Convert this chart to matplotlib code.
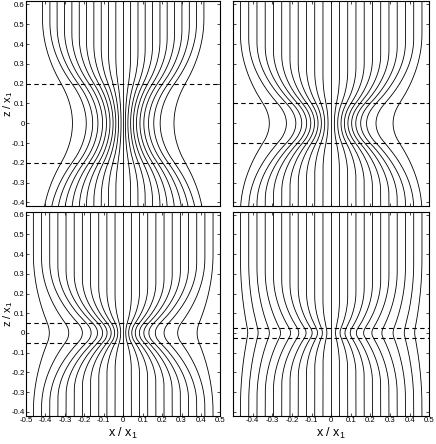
import numpy as np
import matplotlib
matplotlib.use("Agg")
import matplotlib.pyplot as plt

plt.rcParams['font.family'] = ['Liberation Sans', 'DejaVu Sans']
plt.rcParams['mathtext.default'] = 'regular'
plt.rcParams['axes.unicode_minus'] = False

# half-widths of the band (dashed lines at z = +/- h), one per panel
band_half = [0.2, 0.1, 0.05, 0.025]

# x of each field line (right half, inner -> outer) at the top of the panel
x_far_1 = [0.038, 0.076, 0.113, 0.151, 0.189, 0.226, 0.264, 0.302, 0.34, 0.377, 0.415]
x_far_n = [0.042, 0.084, 0.126, 0.168, 0.21, 0.252, 0.294, 0.336, 0.378, 0.42, 0.462]
x_far = [x_far_1, x_far_n, x_far_n, x_far_n]

# x of the same lines where they cross z = 0, one list per panel
x_mid_1 = [0.011, 0.024, 0.038, 0.052, 0.068, 0.086, 0.106, 0.13, 0.157, 0.19, 0.261]
x_mid_2 = [0.016, 0.033, 0.05, 0.067, 0.085, 0.104, 0.125, 0.15, 0.18, 0.228, 0.315]
x_mid_3 = [0.013, 0.028, 0.044, 0.062, 0.083, 0.106, 0.132, 0.165, 0.21, 0.28, 0.38]
x_mid_4 = [0.022, 0.045, 0.07, 0.097, 0.128, 0.165, 0.207, 0.258, 0.315, 0.372, 0.425]
x_mid = [x_mid_1, x_mid_2, x_mid_3, x_mid_4]

x_ticks = np.round(np.arange(-0.5, 0.51, 0.1), 1)
z_ticks = np.round(np.arange(-0.4, 0.61, 0.1), 1)
z_lim = (-0.42, 0.615)


def bend(z, h, d):
    # 0 at z = 0, 1 far away; quadratic inside the band, easing out above it
    a = h / (h + d)
    az = np.abs(z)
    t = np.clip(1 - (az - h) / d, 0, 1)
    return np.where(az < h, a * (az / h) ** 2, 1 - (1 - a) * t ** 2)


def tick_text(v):
    return '0' if v == 0 else '%g' % v


fig = plt.figure(figsize=(4.36, 4.44), dpi=100)
boxes = [[0.0596, 0.535, 0.446, 0.4617],
         [0.5344, 0.535, 0.4505, 0.4617],
         [0.0596, 0.0637, 0.446, 0.4595],
         [0.5344, 0.0637, 0.4505, 0.4595]]

z = np.linspace(z_lim[0], z_lim[1], 800)
for p in range(4):
    ax = fig.add_axes(boxes[p])
    h = band_half[p]
    ax.plot(np.zeros_like(z), z, color='k', lw=0.6)
    for xf, xm in zip(x_far[p], x_mid[p]):
        d = 0.12 + 0.5 * xf
        xs = xm + (xf - xm) * bend(z, h, d)
        ax.plot(xs, z, color='k', lw=0.6)
        ax.plot(-xs, z, color='k', lw=0.6)
    ax.axhline(h, color='k', lw=0.8, ls=(0, (4, 3)))
    ax.axhline(-h, color='k', lw=0.8, ls=(0, (4, 3)))
    ax.set_xlim(-0.5, 0.5)
    ax.set_ylim(*z_lim)
    ax.set_xticks(x_ticks)
    ax.set_yticks(z_ticks)
    ax.tick_params(direction='in', length=2.5, width=0.5, labelsize=5.6, pad=1.0,
                   top=True, right=True)
    for s in ax.spines.values():
        s.set_linewidth(0.8)
    if p in (0, 2):
        ax.set_yticklabels([tick_text(v) for v in z_ticks])
        ax.set_ylabel('z / x$_1$', fontsize=8)
        ax.yaxis.set_label_coords(-0.058, 0.5)
    else:
        ax.set_yticklabels([])
    if p in (2, 3):
        labels = [tick_text(v) for v in x_ticks]
        if p == 3:
            labels[0] = ''
        ax.set_xticklabels(labels)
        ax.set_xlabel('x / x$_1$', fontsize=9, labelpad=1)
    else:
        ax.set_xticklabels([])

fig.savefig('out.png', dpi=100)
